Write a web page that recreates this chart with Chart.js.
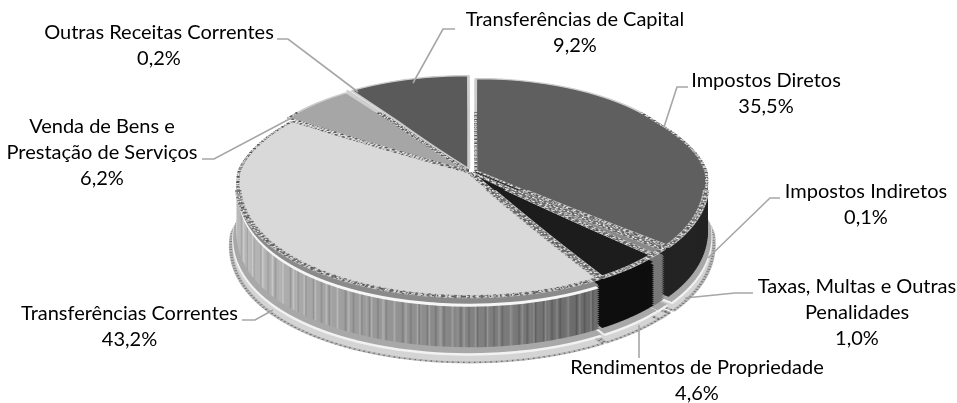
<!DOCTYPE html>
<html>
<head>
<meta charset="utf-8">
<style>
	html, body { margin: 0; padding: 0; background: #fff; }
	canvas { display: block; }
</style>
<script src="https://cdn.jsdelivr.net/npm/chart.js@4/dist/chart.umd.min.js"></script>
</head>
<body>
<canvas id="receitas-canvas" width="957" height="403"></canvas>
<script>
// Values
const categories = [
	['Impostos Diretos'],
	['Impostos Indiretos'],
	['Taxas, Multas e Outras', 'Penalidades'],
	['Rendimentos de Propriedade'],
	['Transferências Correntes'],
	['Venda de Bens e', 'Prestação de Serviços'],
	['Outras Receitas Correntes'],
	['Transferências de Capital']
];
const shares = [35.5, 0.1, 1.0, 4.6, 43.2, 6.2, 0.2, 9.2];

// Styles
const topColors = ['#5f5f5f', '#8a8a8a', '#8a8a8a', '#1c1c1c', '#d9d9d9', '#a6a6a6', '#8a8a8a', '#5a5a5a'];
const wallColors = ['#232323', '#777777', '#777777', '#0e0e0e', null, '#808080', '#666666', '#444444'];
const sliceOffsets = [18, 4, 4, 4, 8, 20, 22, 26];

// Label centre and first line y, leader polyline, in slice order
const labelSpots = [
	{ x: 766, y: 81, leader: [[688, 87], [677, 87], [664, 127]] },
	{ x: 866, y: 192, leader: [[780, 198], [770, 198], [708, 258]] },
	{ x: 857, y: 287, leader: [[753, 293], [735, 293], [685, 298]] },
	{ x: 697, y: 368, leader: [[639, 358], [639, 325]] },
	{ x: 129.5, y: 314, leader: [[242, 320], [255, 320], [273, 310]] },
	{ x: 102, y: 127, leader: [[202, 159], [214, 159], [297, 115]] },
	{ x: 159, y: 33, leader: [[277, 39], [288, 39], [358, 92]] },
	{ x: 575, y: 20, leader: [[455, 29], [443, 29], [413, 83]] }
];

const pieCenter = { x: 471, y: 172 };
const pieRadius = { top: 92, bottom: 123 };
const rowStep = 2;

// on-screen half width of the pie, grows towards the viewer
function halfWidthAt (row) {
	const fromCenter = row - pieCenter.y;
	if (fromCenter < 0) return Math.max(212, 229 + 0.34 * fromCenter);
	return 229 + 0.158 * fromCenter;
}

function stripedWall (ctx, arc) {
	const gradient = ctx.createLinearGradient(arc.x - arc.outerRadius, 0, arc.x + arc.outerRadius, 0);
	for (let i = 0; i <= 300; i++) {
		const t = i / 300;
		const stripe = i % 7 == 0 ? 24 : (i % 5 == 0 ? -20 : (i % 11 == 0 ? 10 : 0));
		const grey = Math.round(Math.max(108, 186 - 110 * t) + stripe);
		gradient.addColorStop(t, `rgb(${grey},${grey},${grey})`);
	}
	return gradient;
}

// draws every slice once, row by row so the far side comes out narrower
function drawLayer (chart, dy, grow, styleOf, firstRow) {
	const ctx = chart.ctx;
	const arcs = chart.getDatasetMeta(0).data;
	const first = arcs[0];
	const splitY = pieCenter.y + dy;
	const styled = arcs.map((arc, index) => Object.assign({}, arc.options, styleOf(index, arc)));
	const startRow = firstRow === undefined ? Math.floor(splitY - pieRadius.top * grow - 6) : firstRow;
	const endRow = Math.ceil(splitY + pieRadius.bottom * grow + 6);

	for (let row = startRow; row < endRow; row += rowStep) {
		const ry = row < splitY ? pieRadius.top : pieRadius.bottom;
		ctx.save();
		ctx.beginPath();
		ctx.rect(0, row, chart.width, rowStep);
		ctx.clip();
		ctx.translate(pieCenter.x, splitY);
		ctx.scale(halfWidthAt(row + 1 - dy) * grow / first.outerRadius, ry * grow / first.outerRadius);
		ctx.translate(-first.x, -first.y);

		arcs.forEach((arc, index) => {
			const saved = arc.options;
			arc.options = styled[index];
			arc.draw(ctx);
			arc.options = saved;
		});
		ctx.restore();
	}
}

const pie3d = {
	id: 'pie3d',
	beforeDatasetsDraw (chart) {
		const ctx = chart.ctx;
		const lightWall = stripedWall(ctx, chart.getDatasetMeta(0).data[0]);
		const flat = color => () => ({ backgroundColor: color, borderWidth: 0 });
		const clear = 'rgba(0,0,0,0)';
		const noise = (color, width, dash) => index => ({
			backgroundColor: clear,
			borderColor: color,
			borderWidth: index == 7 ? 0 : width,
			borderDash: dash
		});

		// base plate
		drawLayer(chart, 62, 1.03, () => ({ backgroundColor: '#d4d4d4', borderColor: '#b8b8b8', borderWidth: 3 }), 205);
		drawLayer(chart, 62, 1.03, noise('#666666', 2, [1, 3]), 205);
		drawLayer(chart, 56, 1.024, flat('#f2f2f2'), 205);
		drawLayer(chart, 54, 1.02, flat('#a8a8a8'), 205);

		// side walls
		for (let dy = 50; dy >= 2; dy -= 2) {
			drawLayer(chart, dy, 1.005, index => ({
				backgroundColor: wallColors[index] || lightWall,
				borderWidth: 0
			}), 172 + dy - 14);
		}

		// lip under the top face, white only along the big front slice
		drawLayer(chart, 10, 1, index => ({
			backgroundColor: index == 4 ? '#f6f6f6' : (wallColors[index] || lightWall),
			borderWidth: 0
		}), 167);
		drawLayer(chart, 7, 1, index => ({
			backgroundColor: index == 4 ? '#8a8a8a' : (wallColors[index] || lightWall),
			borderWidth: 0
		}), 164);

		// top face, rim stays clean along the far side and thickens at the front
		drawLayer(chart, 0, 1, index => ({ backgroundColor: topColors[index], borderColor: '#cccccc', borderWidth: 2.5 }));
		drawLayer(chart, 0, 1, noise('#c8c8c8', 5, []), 190);
		drawLayer(chart, 0, 1, noise('#555555', 2.5, [1, 2, 3, 2]), 112);
		drawLayer(chart, 0, 1, noise('#6a6a6a', 5, [1, 3, 2, 4]), 190);
		drawLayer(chart, 0, 1, noise('#f4f4f4', 1.2, [2, 5]), 112);
		return false;
	},
	afterDraw (chart) {
		const ctx = chart.ctx;
		ctx.save();

		ctx.strokeStyle = '#a6a6a6';
		ctx.lineWidth = 1.6;
		labelSpots.forEach(spot => {
			ctx.beginPath();
			spot.leader.forEach((point, i) => {
				if (i == 0) ctx.moveTo(point[0], point[1]);
				else ctx.lineTo(point[0], point[1]);
			});
			ctx.stroke();
		});

		ctx.fillStyle = '#000';
		ctx.font = '20px Lato';
		ctx.textAlign = 'center';
		ctx.textBaseline = 'middle';
		labelSpots.forEach((spot, index) => {
			const lines = categories[index].concat(shares[index].toFixed(1).replace('.', ',') + '%');
			lines.forEach((line, i) => ctx.fillText(line, spot.x, spot.y + i * 26));
		});
		ctx.restore();
	}
};

new Chart(document.getElementById('receitas-canvas'), {
	type: 'pie',
	data: {
		labels: categories,
		datasets: [{
			data: shares,
			backgroundColor: topColors,
			borderWidth: 0,
			offset: sliceOffsets
		}]
	},
	options: {
		responsive: false,
		animation: false,
		plugins: {
			legend: { display: false },
			tooltip: { enabled: false }
		}
	},
	plugins: [pie3d]
});
</script>
</body>
</html>
